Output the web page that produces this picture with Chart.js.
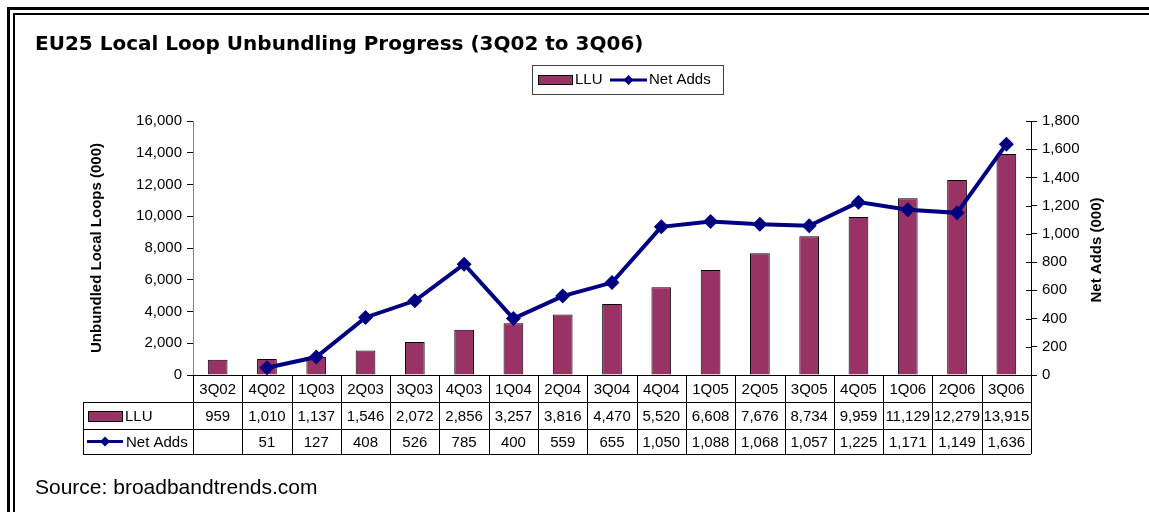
<!DOCTYPE html>
<html>
<head>
<meta charset="utf-8">
<script src="https://cdn.jsdelivr.net/npm/chart.js@4.4.1/dist/chart.umd.min.js"></script>
<style>
  body { margin: 0; background: #fff; }
  #wrap { position: relative; width: 1149px; height: 512px; overflow: hidden; }
  #myChart { position: absolute; left: 0; top: 0; }
  .frame { position: absolute; right: -20px; bottom: -20px; pointer-events: none; }
  #outer { left: 7px; top: 7px; border-top: 3px solid #000; border-left: 3px solid #000; }
  #inner { left: 13px; top: 13px; border-top: 2px solid #000; border-left: 2px solid #000; }
</style>
</head>
<body>
<div id="wrap">
  <canvas id="myChart" width="1149" height="512"></canvas>
  <div class="frame" id="outer"></div>
  <div class="frame" id="inner"></div>
</div>
<script>
const quarters = ['3Q02', '4Q02', '1Q03', '2Q03', '3Q03', '4Q03', '1Q04', '2Q04', '3Q04', '4Q04', '1Q05', '2Q05', '3Q05', '4Q05', '1Q06', '2Q06', '3Q06'];
const lluValues = [959, 1010, 1137, 1546, 2072, 2856, 3257, 3816, 4470, 5520, 6608, 7676, 8734, 9959, 11129, 12279, 13915];
const netAdds = [null, 51, 127, 408, 526, 785, 400, 559, 655, 1050, 1088, 1068, 1057, 1225, 1171, 1149, 1636];
const leftMax = 16000, leftStep = 2000;
const rightMax = 1800, rightStep = 200;

const barColor = '#993366';
const lineColor = '#000080';
const FONT = '"Liberation Sans", Arial, sans-serif';

function fmt(v) {
     return String(v).replace(/\B(?=(\d{3})+(?!\d))/g, ',');
}

// small helpers for the legend symbols
function drawDiamond(ctx, x, y, r) {
     ctx.beginPath();
     ctx.moveTo(x, y - r);
     ctx.lineTo(x + r, y);
     ctx.lineTo(x, y + r);
     ctx.lineTo(x - r, y);
     ctx.closePath();
     ctx.fillStyle = lineColor;
     ctx.fill();
}
function barSymbol(ctx, x1, x2, y1, y2) {
     ctx.fillStyle = barColor;
     ctx.fillRect(x1, y1, x2 - x1, y2 - y1);
     ctx.strokeStyle = '#000';
     ctx.lineWidth = 1;
     ctx.strokeRect(x1 + 0.5, y1 + 0.5, x2 - x1, y2 - y1);
}
function lineSymbol(ctx, x1, x2, y) {
     ctx.strokeStyle = lineColor;
     ctx.lineWidth = 3;
     ctx.beginPath();
     ctx.moveTo(x1, y);
     ctx.lineTo(x2, y);
     ctx.stroke();
     drawDiamond(ctx, (x1 + x2) / 2, y, 5);
}

// title, legend, right axis title, data table and source
const extrasPlugin = {
     id: 'extras',
     afterDraw(chart) {
          const ctx = chart.ctx;
          const area = chart.chartArea;
          const xs = chart.scales.x;
          const y2 = chart.scales.y2;
          const n = quarters.length;
          const colW = (area.right - area.left) / n;

          ctx.save();
          ctx.fillStyle = '#000';
          ctx.font = 'bold 20px "DejaVu Sans", sans-serif';
          ctx.textAlign = 'left';
          ctx.textBaseline = 'alphabetic';
          ctx.fillText('EU25 Local Loop Unbundling Progress (3Q02 to 3Q06)', 35, 50);

          // legend box
          ctx.strokeStyle = '#404040';
          ctx.lineWidth = 1;
          ctx.strokeRect(532.5, 65.5, 191, 29);
          barSymbol(ctx, 538, 572, 75, 84);
          ctx.fillStyle = '#000';
          ctx.font = '15px ' + FONT;
          ctx.textBaseline = 'middle';
          ctx.fillText('LLU', 575, 80);
          lineSymbol(ctx, 610, 647, 80);
          ctx.fillStyle = '#000';
          ctx.fillText('Net Adds', 649, 80);

          // right axis: ticks cross the axis line
          ctx.strokeStyle = '#000';
          ctx.lineWidth = 1;
          ctx.beginPath();
          y2.ticks.forEach(t => {
               const py = Math.round(y2.getPixelForValue(t.value)) + 0.5;
               ctx.moveTo(area.right - 5, py);
               ctx.lineTo(area.right, py);
          });
          ctx.stroke();

          // right axis title (reads bottom to top)
          ctx.save();
          ctx.translate(1097, 250);
          ctx.rotate(-Math.PI / 2);
          ctx.fillStyle = '#000';
          ctx.font = 'bold 15px ' + FONT;
          ctx.textAlign = 'center';
          ctx.fillText('Net Adds (000)', 0, 0);
          ctx.restore();

          // data table
          const top = area.bottom;
          const r1 = top + 27, r2 = r1 + 27, r3 = r2 + 25;
          const tableLeft = 83;
          ctx.strokeStyle = '#000';
          ctx.lineWidth = 1;
          ctx.beginPath();
          ctx.moveTo(area.left - 6, Math.round(top) + 0.5);
          ctx.lineTo(area.right + 6, Math.round(top) + 0.5);
          [r1, r2, r3].forEach(y => {
               ctx.moveTo(tableLeft, Math.round(y) + 0.5);
               ctx.lineTo(area.right, Math.round(y) + 0.5);
          });
          for (let k = 0; k <= n; k++) {
               const x = Math.round(area.left + k * colW) + 0.5;
               ctx.moveTo(x, top);
               ctx.lineTo(x, r3);
          }
          ctx.moveTo(tableLeft + 0.5, r1);
          ctx.lineTo(tableLeft + 0.5, r3);
          ctx.stroke();

          ctx.font = '15px ' + FONT;
          ctx.textAlign = 'center';
          ctx.textBaseline = 'middle';
          ctx.fillStyle = '#000';
          quarters.forEach((q, i) => {
               const cx = xs.getPixelForValue(i);
               ctx.fillText(q, cx, (top + r1) / 2 + 1);
               ctx.fillText(fmt(lluValues[i]), cx, (r1 + r2) / 2 + 1);
               if (netAdds[i] !== null) ctx.fillText(fmt(netAdds[i]), cx, (r2 + r3) / 2 + 1);
          });

          barSymbol(ctx, 88, 122, 411, 421);
          lineSymbol(ctx, 87, 123, (r2 + r3) / 2);
          ctx.fillStyle = '#000';
          ctx.textAlign = 'left';
          ctx.fillText('LLU', 125, (r1 + r2) / 2 + 1);
          ctx.fillText('Net Adds', 126, (r2 + r3) / 2 + 1);

          ctx.font = '21px ' + FONT;
          ctx.textBaseline = 'alphabetic';
          ctx.fillText('Source: broadbandtrends.com', 35, 494);
          ctx.restore();
     }
};

const data = {
     labels: quarters,
     datasets: [
          {
               type: 'line',
               label: 'Net Adds',
               data: netAdds,
               yAxisID: 'y2',
               order: 0,
               borderColor: lineColor,
               backgroundColor: lineColor,
               borderWidth: 4,
               pointStyle: 'rectRot',
               pointRadius: 7.5,
               pointBorderWidth: 0,
               tension: 0
          },
          {
               type: 'bar',
               label: 'LLU',
               data: lluValues,
               yAxisID: 'y',
               order: 1,
               backgroundColor: barColor,
               borderColor: '#000',
               borderWidth: 1,
               categoryPercentage: 1,
               barPercentage: 0.4
          }
     ]
};

const config = {
     data: data,
     options: {
          responsive: false,
          animation: false,
          layout: { padding: { left: 88, right: 0, top: 121, bottom: 137 } },
          plugins: {
               legend: { display: false },
               tooltip: { enabled: false }
          },
          scales: {
               x: { display: false, offset: true },
               y: {
                    position: 'left',
                    min: 0,
                    max: leftMax,
                    afterFit(scale) { scale.width = 105; },
                    ticks: {
                         stepSize: leftStep,
                         color: '#000',
                         padding: 5,
                         font: { family: FONT, size: 15 },
                         callback: v => fmt(v)
                    },
                    grid: { drawOnChartArea: false, drawTicks: true, tickLength: 6, color: '#000' },
                    border: { display: true, color: '#808080' },
                    title: {
                         display: true,
                         text: 'Unbundled Local Loops (000)',
                         color: '#000',
                         padding: 0,
                         font: { family: FONT, size: 15, weight: 'bold' }
                    }
               },
               y2: {
                    position: 'right',
                    min: 0,
                    max: rightMax,
                    afterFit(scale) { scale.width = 118; },
                    ticks: {
                         stepSize: rightStep,
                         color: '#000',
                         padding: 5,
                         font: { family: FONT, size: 15 },
                         callback: v => fmt(v)
                    },
                    grid: { drawOnChartArea: false, drawTicks: true, tickLength: 6, color: '#000' },
                    border: { display: true, color: '#000' }
               }
          }
     },
     plugins: [extrasPlugin]
};

new Chart(document.getElementById('myChart').getContext('2d'), config);
</script>
</body>
</html>
